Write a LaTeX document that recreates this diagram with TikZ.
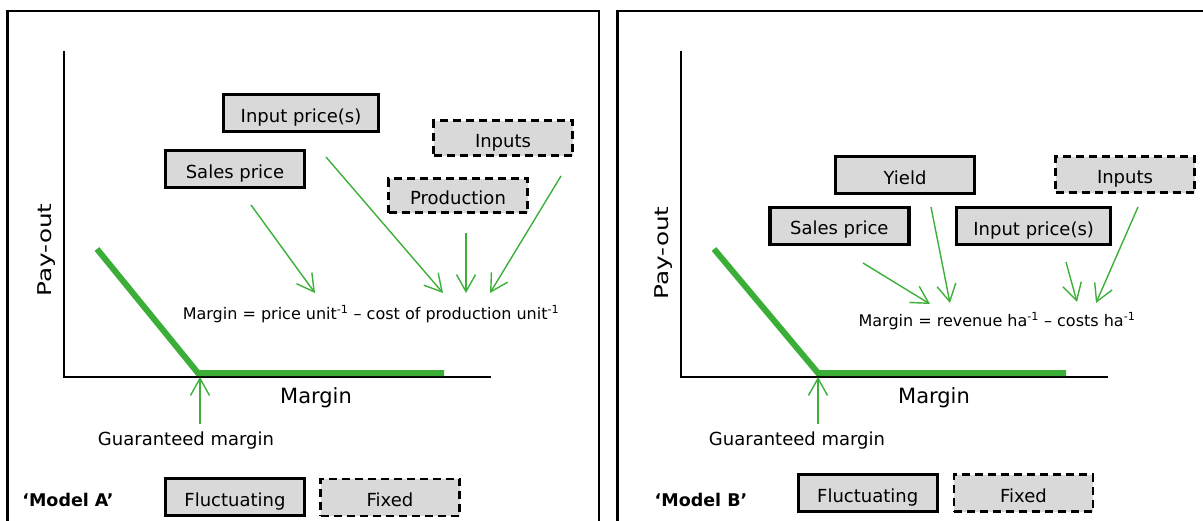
\documentclass[tikz,border=0pt]{standalone}
\usepackage{fontspec}
\setmainfont{DejaVu Sans}
\usetikzlibrary{arrows.meta,positioning}
\definecolor{curvegreen}{HTML}{3AAE36}
\definecolor{arrowgreen}{HTML}{3DB03A}
\definecolor{boxfill}{HTML}{D9D9D9}
\newcommand{\fs}[1]{\fontsize{#1}{#1}\selectfont}

\tikzset{
  fluctbox/.style={draw=black,fill=boxfill,line width=3.4pt,minimum width=139pt,minimum height=37pt,inner sep=0pt,
    text height=18pt,text depth=0pt,font=\fs{18}},
  fixedbox/.style={fluctbox,line width=2.7pt,dash pattern=on 8pt off 5pt},
  pointer/.style={draw=arrowgreen,line width=1.4pt,-{Straight Barb[length=17pt,width=19pt]}},
  axis/.style={draw=black,line width=2pt},
  payoff/.style={draw=curvegreen,line width=6pt,line join=miter},
  yaxislabel/.style={rotate=90,font=\fs{19}\addfontfeature{FakeStretch=1.3}},
}

\begin{document}
\begin{tikzpicture}[x=1pt,y=-1pt]
  \path[use as bounding box] (0,0) rectangle (1203,520);
  \clip (0,0) rectangle (1203,520);
  \fill[white] (0,0) rectangle (1203,520);

  % panel frames (cut off by the page)
  \draw[line width=2.6pt] (7.7,11) rectangle (599,560);
  \draw[line width=2.6pt] (617.3,11) rectangle (1230,560);

  % ---------- Model A ----------
  \draw[axis] (64,51) -- (64,377) -- (491,377);
  \draw[payoff] (97,249) -- (198,373) -- (444,373);
  \node[yaxislabel] (payA) at (47,250) {Pay-out};
  \node[font=\fs{21}] (marginA) at (316,398) {Margin};
  \node[font=\fs{18}] (guarA) at (186,441) {Guaranteed margin};

  \node[fluctbox,minimum width=155pt] (inpriceA) at (301,113) {Input price(s)};
  \node[fluctbox] (salesA) at (235,169) {Sales price};
  \node[fixedbox,minimum height=35pt] (inputsA) at (503,138) {Inputs};
  \node[fixedbox,minimum height=34pt] (prodA) at (458,195.5) {Production};
  \node[font=\fs{16}] (eqA) at (371,314) {Margin = price unit\textsuperscript{-1} -- cost of production unit\textsuperscript{-1}};

  \coordinate (sA1) at (251,205); \coordinate (tA1) at (315,293);
  \coordinate (sA2) at (326,157); \coordinate (tA2) at (443,293);
  \coordinate (sA3) at (466,233); \coordinate (tA3) at (466,293);
  \coordinate (sA4) at (561,176); \coordinate (tA4) at (490,293);
  \coordinate (gA) at (200,424);  \coordinate (kA) at (200,377);
  \foreach \s/\t in {sA1/tA1,sA2/tA2,sA3/tA3,sA4/tA4,gA/kA}
    \draw[pointer] (\s) -- (\t);

  \node[font=\bfseries\fs{17.5}] (modelA) at (68,500) {`Model A'};
  \node[fluctbox] (fluctA) at (235,497) {Fluctuating};
  \node[fixedbox] (fixedA) at (390,497.5) {Fixed};

  % ---------- Model B ----------
  \draw[axis] (681,51) -- (681,377) -- (1108,377);
  \draw[payoff] (714,249) -- (818,373) -- (1066,373);
  \node[yaxislabel] (payB) at (664,253) {Pay-out};
  \node[font=\fs{21}] (marginB) at (934,398) {Margin};
  \node[font=\fs{18}] (guarB) at (797,441) {Guaranteed margin};

  \node[fluctbox] (yieldB) at (905,175) {Yield};
  \node[fixedbox,minimum height=36pt] (inputsB) at (1125,174.5) {Inputs};
  \node[fluctbox] (salesB) at (839.3,225.7) {Sales price};
  \node[fluctbox,minimum width=154pt] (inpriceB) at (1033.7,226) {Input price(s)};
  \node[font=\fs{16}] (eqB) at (997,321) {Margin = revenue ha\textsuperscript{-1} -- costs ha\textsuperscript{-1}};

  \coordinate (sB1) at (863,263);  \coordinate (tB1) at (930,304);
  \coordinate (sB2) at (931,207);  \coordinate (tB2) at (950,303);
  \coordinate (sB3) at (1066,262); \coordinate (tB3) at (1077,302);
  \coordinate (sB4) at (1138,207); \coordinate (tB4) at (1096,303);
  \coordinate (gB) at (818,424);   \coordinate (kB) at (818,377);
  \foreach \s/\t in {sB1/tB1,sB2/tB2,sB3/tB3,sB4/tB4,gB/kB}
    \draw[pointer] (\s) -- (\t);

  \node[font=\bfseries\fs{17.5}] (modelB) at (701,500) {`Model B'};
  \node[fluctbox] (fluctB) at (867.7,493) {Fluctuating};
  \node[fixedbox] (fixedB) at (1023.5,493) {Fixed};
\end{tikzpicture}
\end{document}
